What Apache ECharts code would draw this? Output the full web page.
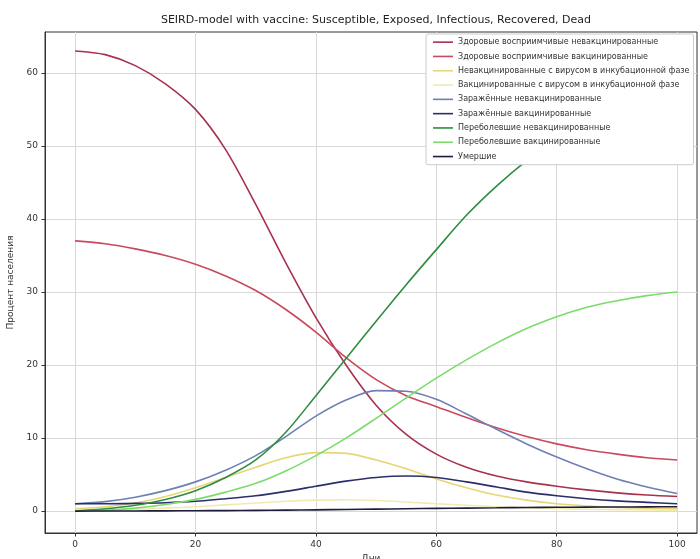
<!DOCTYPE html>
<html><head><meta charset="utf-8">
<script src="https://cdn.jsdelivr.net/npm/echarts@6/dist/echarts.min.js"></script>
<style>html,body{margin:0;padding:0;background:#fff}#c{width:700px;height:559px}</style>
</head><body><div id="c"></div>
<script>
const days = [0,5,10,15,20,25,30,35,40,45,50,55,60,65,70,75,80,85,90,95,100];
const xTicks = [0,20,40,60,80,100];
const yTicks = [0,10,20,30,40,50,60];
const susUnvacc = [63,62.5,61,58.5,55,49.5,42,34,26.5,20,14.5,10.5,7.8,6,4.8,4,3.4,2.9,2.5,2.2,2.0];
const susVacc = [37,36.6,35.9,35,33.8,32.2,30.2,27.6,24.5,21,18,15.8,14.3,12.8,11.4,10.2,9.2,8.4,7.8,7.3,7.0];
const expUnvacc = [0.3,0.6,1.1,2.0,3.2,4.6,6.0,7.3,8.0,7.9,7.0,5.8,4.4,3.2,2.2,1.5,1.0,0.7,0.5,0.4,0.3];
const expVacc = [0.1,0.15,0.25,0.4,0.6,0.85,1.1,1.35,1.5,1.55,1.45,1.25,1.0,0.8,0.6,0.45,0.35,0.25,0.2,0.15,0.1];
const infUnvacc = [1.0,1.3,1.9,2.8,4.0,5.6,7.6,10.2,13.0,15.2,16.5,16.4,15.3,13.3,11.2,9.2,7.4,5.8,4.4,3.3,2.4];
const infVacc = [1.0,1.0,1.05,1.15,1.35,1.7,2.1,2.7,3.4,4.1,4.6,4.8,4.6,4.0,3.3,2.6,2.1,1.7,1.4,1.2,1.0];
const recUnvacc = [0,0.3,0.8,1.6,2.8,4.6,7.0,10.8,15.8,20.9,26,31,35.8,40.5,44.5,48,51,53.5,55.5,57,58];
const recVacc = [0,0.1,0.4,0.9,1.6,2.6,3.8,5.5,7.6,10,12.7,15.5,18.2,20.7,23,25,26.6,27.9,28.8,29.5,30];
const dead = [0,0.01,0.02,0.03,0.05,0.07,0.1,0.13,0.17,0.22,0.27,0.32,0.37,0.41,0.45,0.49,0.52,0.54,0.56,0.58,0.6];

const names = [
 'Здоровые восприимчивые невакцинированные',
 'Здоровые восприимчивые вакцинированные',
 'Невакцинированные с вирусом в инкубационной фазе',
 'Вакцинированные с вирусом в инкубационной фазе',
 'Заражённые невакцинированные',
 'Заражённые вакцинированные',
 'Переболевшие невакцинированные',
 'Переболевшие вакцинированные',
 'Умершие'
];
const seriesData = [susUnvacc,susVacc,expUnvacc,expVacc,infUnvacc,infVacc,recUnvacc,recVacc,dead];
const colors = ['#a8324e','#c94a5c','#e6d675','#f1eab0','#6f80b4','#2a2f6a','#2f8c40','#7bdc6b','#1e1e3c'];

const chart = echarts.init(document.getElementById('c'), null, {renderer:'canvas'});
const font = 'DejaVu Sans';
chart.setOption({
  animation:false,
  backgroundColor:'#fff',
  title:{text:'SEIRD-model with vaccine: Susceptible, Exposed, Infectious, Recovered, Dead',
    left:371, top:10, textAlign:'center',
    textStyle:{fontFamily:font,fontSize:11,fontWeight:'normal',color:'#222'}},
  legend:{orient:'vertical', left:426, top:34, z:50, itemGap:4, itemWidth:20, itemHeight:1.6, icon:'rect',
    backgroundColor:'#fff', borderColor:'#ccc', borderWidth:1, padding:[3,4,3,7], borderRadius:2,
    textStyle:{fontFamily:font,fontSize:8,color:'#333',lineHeight:10.3,padding:[0,0,0,0]},
    itemStyle:{borderWidth:0}, data:names},
  grid:{left:45,right:3,top:32,bottom:26,show:true,borderColor:'#333',borderWidth:1,backgroundColor:'transparent',
    outerBoundsMode:'none', containLabel:false},
  xAxis:{type:'value',min:-5,max:103.3,
    name:'Дни',nameLocation:'middle',nameGap:21,nameTextStyle:{fontFamily:font,fontSize:9,color:'#333'},
    axisLine:{show:true,onZero:false,lineStyle:{color:'#333'}},
    axisTick:{show:true,inside:false,length:3.5,customValues:xTicks,lineStyle:{color:'#333'}},
    axisLabel:{customValues:xTicks,fontFamily:font,fontSize:9,color:'#333',margin:7},
    splitLine:{show:true,lineStyle:{color:'#d9d9d9',width:1}}},
  yAxis:{type:'value',min:-3,max:65.6,
    name:'Процент населения',nameLocation:'middle',nameGap:27,nameRotate:90,nameTextStyle:{fontFamily:font,fontSize:9,color:'#333'},
    axisLine:{show:true,onZero:false,lineStyle:{color:'#333'}},
    axisTick:{show:true,inside:false,length:3.5,customValues:yTicks,lineStyle:{color:'#333'}},
    axisLabel:{customValues:yTicks,fontFamily:font,fontSize:9,color:'#333',margin:7},
    splitLine:{show:true,lineStyle:{color:'#d9d9d9',width:1}}},
  series: names.map((n,i)=>({
    name:n, type:'line', smooth:0.3, showSymbol:false, symbol:'none',
    color:colors[i], lineStyle:{width:1.6,color:colors[i]},
    z: 2,
    data: days.map((d,k)=>[d, seriesData[i][k]])
  }))
});
</script></body></html>
